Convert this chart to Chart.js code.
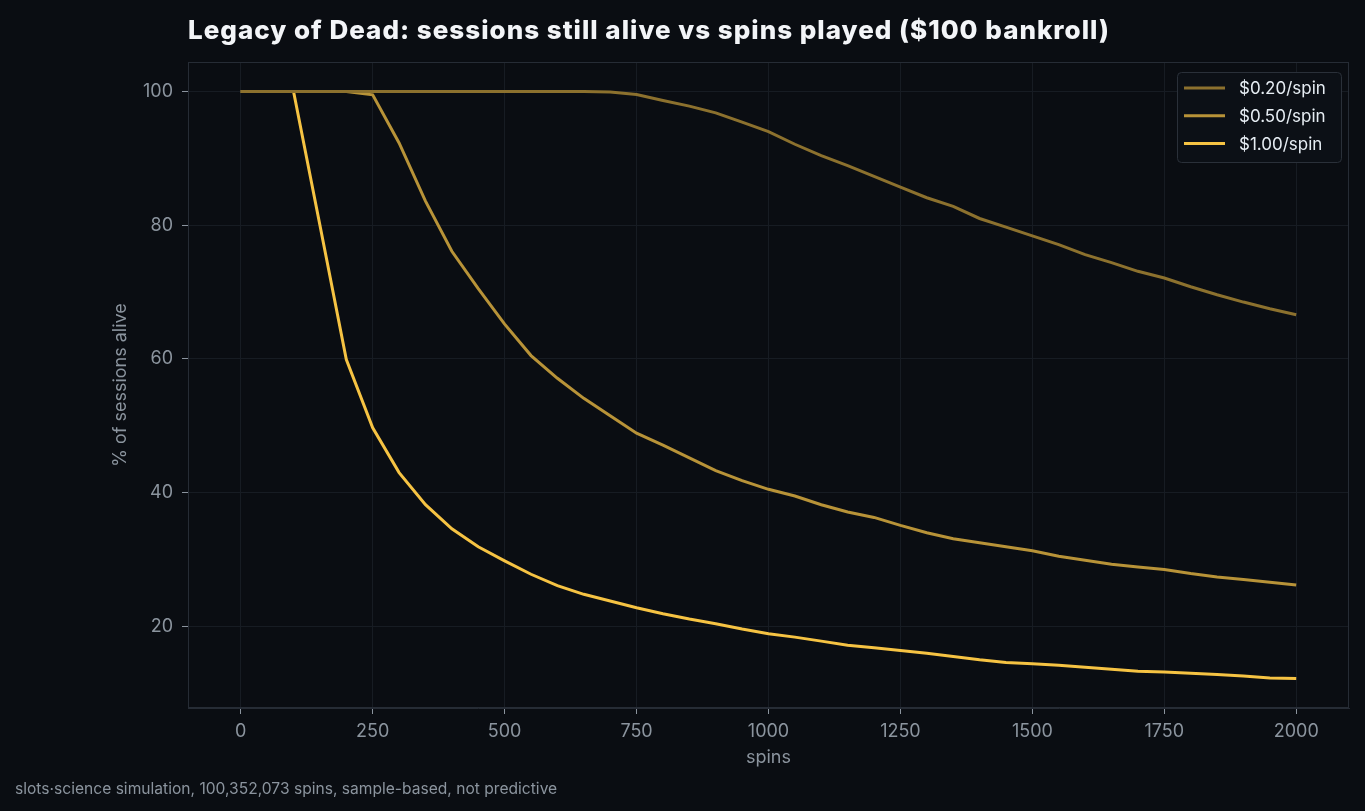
<!DOCTYPE html>
<html>
<head>
<meta charset="utf-8">
<script src="https://cdn.jsdelivr.net/npm/chart.js@4"></script>
<style>
  html, body { margin: 0; background: #0a0d12; }
  #wrap { width: 1365px; height: 811px; }
</style>
</head>
<body>
<div id="wrap"><canvas id="chart" width="1365" height="811"></canvas></div>
<script>
// spins played (x)
const spins = [0, 50, 100, 150, 200, 250, 300, 350, 400, 450, 500, 550, 600, 650, 700, 750, 800, 850, 900, 950,
  1000, 1050, 1100, 1150, 1200, 1250, 1300, 1350, 1400, 1450, 1500, 1550, 1600, 1650, 1700, 1750, 1800, 1850, 1900, 1950, 2000];

// % of sessions still alive
const alive020 = [100, 100, 100, 100, 100, 100, 100, 100, 100, 100, 100, 100, 100, 100, 99.9, 99.55, 98.65, 97.8, 96.8, 95.4,
  94.0, 92.1, 90.4, 88.9, 87.3, 85.7, 84.1, 82.8, 81.0, 79.7, 78.4, 77.1, 75.6, 74.4, 73.1, 72.1, 70.8, 69.6, 68.5, 67.5, 66.6];
const alive050 = [100, 100, 100, 100, 100, 99.5, 92.3, 83.6, 76.1, 70.5, 65.2, 60.5, 57.1, 54.1, 51.5, 48.9, 47.1, 45.2, 43.3, 41.8,
  40.5, 39.5, 38.2, 37.1, 36.3, 35.1, 34.0, 33.1, 32.5, 31.9, 31.3, 30.5, 29.9, 29.3, 28.9, 28.5, 27.9, 27.4, 27.0, 26.6, 26.2];
const alive100 = [100, 100, 100, 80.0, 59.9, 49.7, 43.0, 38.2, 34.6, 31.9, 29.8, 27.8, 26.1, 24.8, 23.8, 22.8, 21.9, 21.1, 20.4, 19.6,
  18.9, 18.4, 17.8, 17.2, 16.8, 16.4, 16.0, 15.5, 15.0, 14.6, 14.4, 14.2, 13.9, 13.6, 13.3, 13.2, 13.0, 12.8, 12.6, 12.3, 12.2];

const seriesLabels = ['$0.20/spin', '$0.50/spin', '$1.00/spin'];
const xTicks = [0, 250, 500, 750, 1000, 1250, 1500, 1750, 2000];
const yTicks = [20, 40, 60, 80, 100];

const titleText = 'Legacy of Dead: sessions still alive vs spins played ($100 bankroll)';
const footText = 'slots\u00b7science simulation, 100,352,073 spins, sample-based, not predictive';

const toPoints = arr => arr.map((v, i) => ({ x: spins[i], y: v }));

//background, frame, title, footer and legend box
const decor = {
  id: 'decor',
  beforeDraw(chart) {
    const c = chart.ctx;
    c.save();
    c.fillStyle = '#0a0d12';
    c.fillRect(0, 0, chart.width, chart.height);
    c.restore();
  },
  afterDraw(chart) {
    const c = chart.ctx;
    const a = chart.chartArea;
    c.save();
    c.strokeStyle = '#262c35';
    c.lineWidth = 1;
    c.strokeRect(a.left + 0.5, a.top + 0.5, a.right - a.left - 1, a.bottom - a.top - 1);

    c.fillStyle = '#f3f5f8';
    c.font = '800 26px Inter';
    c.letterSpacing = '1px';
    c.textBaseline = 'alphabetic';
    c.fillText(titleText, a.left, 39);
    c.letterSpacing = '0px';

    c.fillStyle = '#8b949e';
    c.font = '15.6px Inter';
    c.fillText(footText, 15, 794);

    // legend
    const bx = a.right - 172, by = a.top + 10, bw = 164, bh = 90;
    c.beginPath();
    c.roundRect(bx + 0.5, by + 0.5, bw, bh, 4);
    c.fillStyle = '#0c1016';
    c.fill();
    c.strokeStyle = '#2a3039';
    c.stroke();
    c.font = '17px Inter';
    c.textBaseline = 'middle';
    chart.data.datasets.forEach((ds, i) => {
      const y = by + 16 + i * 27.8;
      c.strokeStyle = ds.borderColor;
      c.lineWidth = ds.borderWidth;
      c.beginPath();
      c.moveTo(bx + 7, y);
      c.lineTo(bx + 48, y);
      c.stroke();
      c.fillStyle = '#e6edf3';
      c.fillText(ds.label, bx + 62, y + 1);
    });
    c.restore();
  }
};

const ctx = document.getElementById('chart').getContext('2d');
const chart = new Chart(ctx, {
  type: 'line',
  data: {
    datasets: [
      { label: seriesLabels[0], data: toPoints(alive020), borderColor: '#8c712e', borderWidth: 3 },
      { label: seriesLabels[1], data: toPoints(alive050), borderColor: '#b89338', borderWidth: 3 },
      { label: seriesLabels[2], data: toPoints(alive100), borderColor: '#f6c343', borderWidth: 3 }
    ]
  },
  options: {
    responsive: false,
    animation: false,
    devicePixelRatio: 1,
    layout: { padding: { left: 106, right: 16, top: 62, bottom: 39 } },
    elements: { point: { radius: 0 }, line: { tension: 0, borderCapStyle: 'butt' } },
    plugins: { legend: { display: false }, tooltip: { enabled: false } },
    scales: {
      x: {
        type: 'linear',
        min: -100,
        max: 2100,
        afterBuildTicks: s => { s.ticks = xTicks.map(v => ({ value: v })); },
        afterFit: s => { s.height = 64; },
        grid: { color: '#171c23', tickColor: '#8b949e', tickLength: 6 },
        border: { color: '#262c35' },
        ticks: { color: '#8b949e', font: { family: 'Inter', size: 18 }, padding: 7, maxRotation: 0, callback: v => String(v) },
        title: { display: true, text: 'spins', color: '#8b949e', font: { family: 'Inter', size: 18 }, padding: 4 }
      },
      y: {
        min: 7.8,
        max: 104.4,
        afterBuildTicks: s => { s.ticks = yTicks.map(v => ({ value: v })); },
        afterFit: s => { s.width = 82; },
        grid: { color: '#171c23', tickColor: '#8b949e', tickLength: 6 },
        border: { color: '#262c35' },
        ticks: { color: '#8b949e', font: { family: 'Inter', size: 18 }, padding: 9, callback: v => String(v) },
        title: { display: true, text: '% of sessions alive', color: '#8b949e', font: { family: 'Inter', size: 18 }, padding: 4 }
      }
    }
  },
  plugins: [decor]
});
</script>
</body>
</html>
